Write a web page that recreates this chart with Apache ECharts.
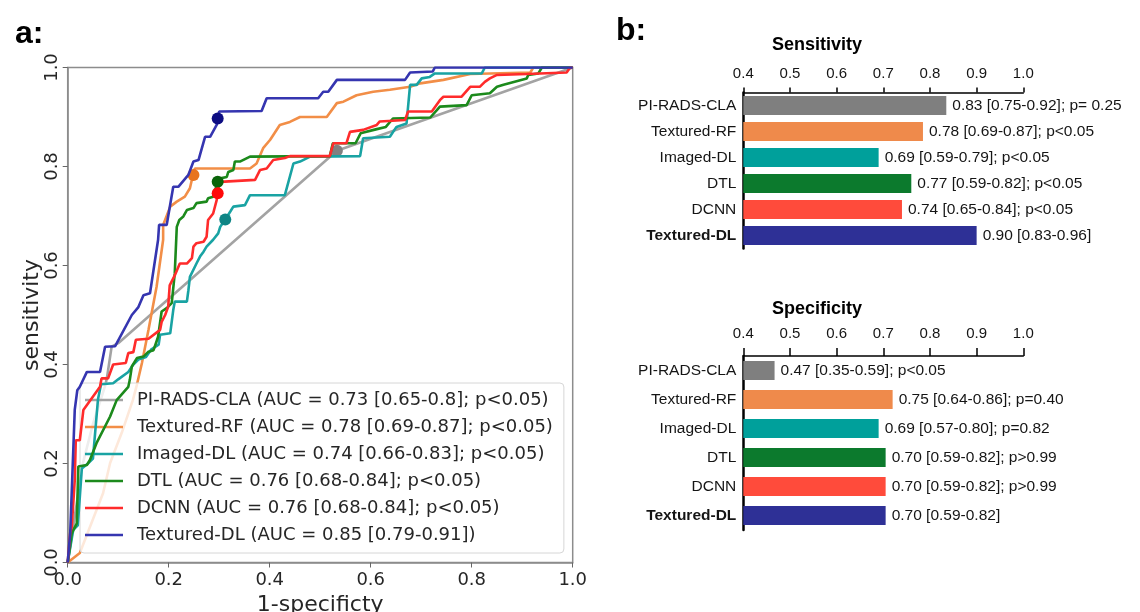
<!DOCTYPE html>
<html>
<head>
<meta charset="utf-8">
<title>ROC and sensitivity / specificity</title>
<script src="https://cdn.jsdelivr.net/npm/echarts/dist/echarts.min.js"></script>
<style>
  html,body{margin:0;padding:0;background:#fff;}
  #chart{width:1140px;height:612px;}
</style>
</head>
<body>
<div id="chart"></div>
<script>
// model names (legend / bar categories)
var models=["PI-RADS-CLA","Textured-RF","Imaged-DL","DTL","DCNN","Textured-DL"];
var legendNames=[
    "PI-RADS-CLA (AUC = 0.73 [0.65-0.8]; p<0.05)",
    "Textured-RF (AUC = 0.78 [0.69-0.87]; p<0.05)",
    "Imaged-DL (AUC = 0.74 [0.66-0.83]; p<0.05)",
    "DTL (AUC = 0.76 [0.68-0.84]; p<0.05)",
    "DCNN (AUC = 0.76 [0.68-0.84]; p<0.05)",
    "Textured-DL (AUC = 0.85 [0.79-0.91])"
];

// ROC curves, [1-specificity, sensitivity]
var rocPiRads=[[0,0],[0.015,0.1],[0.03,0.2],[0.05,0.28],[0.075,0.36],[0.078,0.375],[0.087,0.436],[0.1,0.443],[0.533,0.832],[1,1]];
var rocTexturedRf=[[0,0],[0.024,0.019],[0.07,0.14],[0.084,0.201],[0.107,0.262],[0.129,0.328],[0.137,0.359],[0.147,0.403],[0.16,0.47],[0.176,0.557],[0.189,0.652],[0.189,0.682],[0.203,0.719],[0.216,0.729],[0.232,0.739],[0.242,0.756],[0.248,0.783],[0.252,0.796],[0.361,0.796],[0.374,0.806],[0.387,0.837],[0.401,0.854],[0.42,0.884],[0.44,0.89],[0.46,0.9],[0.513,0.9],[0.533,0.928],[0.546,0.931],[0.572,0.944],[0.605,0.951],[0.638,0.955],[0.678,0.961],[0.698,0.968],[0.744,0.975],[0.797,0.987],[0.916,0.99],[0.922,1],[1,1]];
var rocImagedDl=[[0,0],[0.011,0.066],[0.02,0.075],[0.028,0.19],[0.04,0.2],[0.05,0.21],[0.06,0.33],[0.066,0.36],[0.09,0.362],[0.1,0.37],[0.12,0.385],[0.13,0.4],[0.14,0.41],[0.155,0.415],[0.165,0.43],[0.18,0.44],[0.183,0.46],[0.203,0.463],[0.209,0.51],[0.212,0.527],[0.236,0.527],[0.239,0.55],[0.242,0.577],[0.255,0.604],[0.262,0.618],[0.269,0.628],[0.275,0.638],[0.288,0.652],[0.298,0.665],[0.302,0.678],[0.312,0.693],[0.322,0.709],[0.328,0.719],[0.351,0.722],[0.361,0.742],[0.43,0.742],[0.447,0.806],[0.46,0.81],[0.48,0.82],[0.579,0.821],[0.585,0.857],[0.638,0.86],[0.651,0.88],[0.671,0.887],[0.678,0.965],[0.691,0.965],[0.701,0.978],[0.717,0.981],[0.727,0.988],[0.82,0.988],[0.826,1],[1,1]];
var rocDtl=[[0,0],[0.008,0.059],[0.018,0.079],[0.021,0.194],[0.038,0.197],[0.044,0.207],[0.057,0.241],[0.084,0.295],[0.097,0.328],[0.12,0.355],[0.123,0.369],[0.127,0.396],[0.137,0.413],[0.15,0.416],[0.16,0.426],[0.17,0.429],[0.179,0.456],[0.186,0.507],[0.196,0.514],[0.206,0.524],[0.212,0.584],[0.216,0.678],[0.221,0.692],[0.229,0.699],[0.236,0.712],[0.249,0.716],[0.255,0.726],[0.275,0.729],[0.278,0.736],[0.288,0.739],[0.297,0.769],[0.302,0.776],[0.315,0.779],[0.318,0.789],[0.328,0.793],[0.331,0.81],[0.341,0.81],[0.361,0.82],[0.519,0.821],[0.525,0.847],[0.57,0.847],[0.58,0.867],[0.61,0.875],[0.63,0.88],[0.644,0.897],[0.718,0.899],[0.731,0.914],[0.737,0.921],[0.79,0.924],[0.8,0.944],[0.836,0.948],[0.85,0.961],[0.863,0.965],[0.909,0.978],[0.912,0.985],[0.932,0.988],[0.939,1],[1,1]];
var rocDcnn=[[0,0],[0.005,0.06],[0.008,0.072],[0.014,0.167],[0.016,0.247],[0.024,0.247],[0.031,0.308],[0.064,0.355],[0.067,0.372],[0.08,0.372],[0.09,0.4],[0.115,0.403],[0.12,0.423],[0.13,0.425],[0.135,0.45],[0.16,0.452],[0.183,0.47],[0.186,0.486],[0.193,0.5],[0.199,0.517],[0.202,0.56],[0.212,0.58],[0.222,0.604],[0.236,0.604],[0.246,0.615],[0.249,0.638],[0.255,0.645],[0.269,0.648],[0.275,0.658],[0.278,0.692],[0.288,0.705],[0.295,0.732],[0.298,0.756],[0.302,0.769],[0.371,0.773],[0.381,0.793],[0.394,0.796],[0.407,0.813],[0.43,0.817],[0.44,0.821],[0.519,0.821],[0.526,0.847],[0.552,0.847],[0.559,0.87],[0.585,0.874],[0.612,0.884],[0.618,0.891],[0.668,0.894],[0.674,0.911],[0.721,0.911],[0.737,0.934],[0.744,0.941],[0.78,0.941],[0.797,0.961],[0.816,0.961],[0.826,0.971],[0.836,0.978],[0.85,0.985],[0.909,0.987],[0.988,0.99],[0.995,1],[1,1]];
var rocTexturedDl=[[0,0],[0.005,0.06],[0.014,0.309],[0.019,0.348],[0.024,0.355],[0.038,0.385],[0.064,0.385],[0.074,0.436],[0.094,0.437],[0.127,0.5],[0.14,0.516],[0.15,0.54],[0.163,0.544],[0.179,0.652],[0.181,0.682],[0.196,0.682],[0.209,0.759],[0.219,0.759],[0.239,0.783],[0.249,0.81],[0.259,0.813],[0.272,0.86],[0.282,0.86],[0.295,0.884],[0.3,0.911],[0.384,0.912],[0.394,0.938],[0.496,0.938],[0.506,0.951],[0.516,0.951],[0.533,0.975],[0.668,0.975],[0.678,0.99],[0.723,0.992],[0.727,1],[1,1]];

// operating points on each curve
var cutPoints=[[0.533,0.832],[0.249,0.783],[0.312,0.693],[0.297,0.769],[0.297,0.746],[0.297,0.897]];

// panel b values and labels
var sensValues=[0.835,0.785,0.69,0.76,0.74,0.90];
var sensLabels=["0.83 [0.75-0.92]; p= 0.25","0.78 [0.69-0.87]; p<0.05","0.69 [0.59-0.79]; p<0.05","0.77 [0.59-0.82]; p<0.05","0.74 [0.65-0.84]; p<0.05","0.90 [0.83-0.96]"];
var specValues=[0.467,0.72,0.69,0.705,0.705,0.705];
var specLabels=["0.47 [0.35-0.59]; p<0.05","0.75 [0.64-0.86]; p=0.40","0.69 [0.57-0.80]; p=0.82","0.70 [0.59-0.82]; p>0.99","0.70 [0.59-0.82]; p>0.99","0.70 [0.59-0.82]"];
var barTicks=[0.4,0.5,0.6,0.7,0.8,0.9,1.0];

(function(){
    var rocData=[rocPiRads,rocTexturedRf,rocImagedDl,rocDtl,rocDcnn,rocTexturedDl];
    var lineColors=["#a3a3a3","#f28e47","#19a3a3","#1c8a1c","#ff2b2b","#3535b0"];
    var dotColors=["#808080","#e8741e","#0e8585","#0a640a","#ff0a0a","#0c0c82"];
    var barColors=["#7f7f7f","#ef8a4b","#00a09b","#0c7a2d","#ff4b3b","#2e3096"];
    var roc="DejaVu Sans",helv="Liberation Sans";

    var series=[];
    rocData.forEach(function(d,i){
        series.push({
            name:legendNames[i],type:"line",xAxisIndex:0,yAxisIndex:0,
            data:d,symbol:"none",smooth:false,z:2+i,
            lineStyle:{color:lineColors[i],width:2.6},itemStyle:{color:lineColors[i]}
        });
        series.push({
            name:"pt"+i,type:"scatter",xAxisIndex:0,yAxisIndex:0,
            data:[cutPoints[i]],symbolSize:12,z:3+i,
            itemStyle:{color:dotColors[i],opacity:1}
        });
    });

    function bars(values,labels,idx){
        return {
            type:"bar",xAxisIndex:idx,yAxisIndex:idx,barWidth:19,clip:true,
            data:values.map(function(v,i){return {value:v,itemStyle:{color:barColors[i]}};}),
            label:{show:true,position:"right",distance:6,fontFamily:helv,fontSize:15.5,color:"#151515",
                formatter:function(p){return labels[p.dataIndex];}}
        };
    }
    series.push(bars(sensValues,sensLabels,1));
    series.push(bars(specValues,specLabels,2));

    function barX(idx,margin,tick){
        return {
            gridIndex:idx,type:"value",position:"top",min:barTicks[0],max:barTicks[barTicks.length-1],interval:0.1,
            axisLine:{show:true,lineStyle:{color:"#000",width:1.5}},
            axisTick:{show:true,length:tick,lineStyle:{color:"#000",width:1.5}},
            axisLabel:{fontFamily:helv,fontSize:15,color:"#151515",margin:margin,formatter:function(v){return v.toFixed(1);}},
            splitLine:{show:false}
        };
    }
    function barY(idx){
        return {
            gridIndex:idx,type:"category",data:models,inverse:true,
            axisLine:{show:true,lineStyle:{color:"#000",width:2.5}},
            axisTick:{show:false},
            axisLabel:{fontFamily:helv,fontSize:15.5,color:"#151515",margin:7,
                formatter:function(v){return v==="Textured-DL"?"{b|"+v+"}":v;},
                rich:{b:{fontFamily:helv,fontSize:15.5,fontWeight:"bold",color:"#151515"}}}
        };
    }

    var option={
        animation:false,
        backgroundColor:"#fff",
        title:[
            {text:"a:",left:10,top:13,textStyle:{fontFamily:helv,fontSize:32,fontWeight:"bold",color:"#000"}},
            {text:"b:",left:611,top:10,textStyle:{fontFamily:helv,fontSize:32,fontWeight:"bold",color:"#000"}},
            {text:"Sensitivity",left:812,top:31,textAlign:"center",textStyle:{fontFamily:helv,fontSize:18,fontWeight:"bold",color:"#000"}},
            {text:"Specificity",left:812,top:295,textAlign:"center",textStyle:{fontFamily:helv,fontSize:18,fontWeight:"bold",color:"#000"}}
        ],
        legend:{
            data:legendNames,orient:"vertical",left:80,top:383,
            icon:"rect",itemWidth:38,itemHeight:2.6,itemGap:9,
            backgroundColor:"rgba(255,255,255,0.8)",borderColor:"#d6d6d6",borderWidth:1,borderRadius:4,
            padding:[8,11,9,5],
            textStyle:{fontFamily:roc,fontSize:18,lineHeight:18,color:"#262626",padding:[0,0,0,9]}
        },
        grid:[
            {left:67.7,top:67.5,width:505,height:495,show:true,borderColor:"#8c8c8c",borderWidth:1.5,containLabel:false,outerBoundsMode:"none"},
            {left:743.3,top:92.5,width:280,height:156,containLabel:false,outerBoundsMode:"none"},
            {left:743.3,top:356,width:280,height:174,containLabel:false,outerBoundsMode:"none"}
        ],
        xAxis:[
            {gridIndex:0,type:"value",min:0,max:1,interval:0.2,
                axisLine:{show:true,lineStyle:{color:"#8c8c8c",width:1.5}},
                axisTick:{show:true,length:5,lineStyle:{color:"#666"}},
                axisLabel:{fontFamily:roc,fontSize:18,color:"#262626",margin:9,formatter:function(v){return v.toFixed(1);}},
                splitLine:{show:false},
                name:"1-specificty",nameLocation:"middle",nameGap:27,
                nameTextStyle:{fontFamily:roc,fontSize:22,color:"#262626"}},
            barX(1,11,5),barX(2,15,8)
        ],
        yAxis:[
            {gridIndex:0,type:"value",min:0,max:1,interval:0.2,
                axisLine:{show:true,lineStyle:{color:"#8c8c8c",width:1.5}},
                axisTick:{show:true,length:5,lineStyle:{color:"#666"}},
                axisLabel:{fontFamily:roc,fontSize:18,color:"#262626",margin:6,rotate:90,formatter:function(v){return v.toFixed(1);}},
                splitLine:{show:false},
                name:"sensitivity",nameLocation:"middle",nameGap:24,
                nameTextStyle:{fontFamily:roc,fontSize:22,color:"#262626"}},
            barY(1),barY(2)
        ],
        series:series
    };

    echarts.init(document.getElementById("chart")).setOption(option);
})();
</script>
</body>
</html>
